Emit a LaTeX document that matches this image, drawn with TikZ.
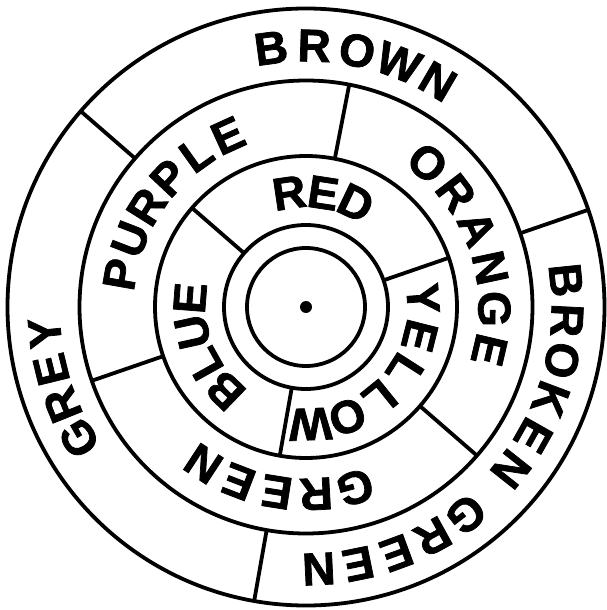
\documentclass[tikz,border=0pt]{standalone}
\usepackage{fontspec}
\setmainfont{Liberation Sans}
\newfontfamily\rueda{Liberation Sans Bold}[FakeBold=1.6]
\usetikzlibrary{calc}
\definecolor{tinta}{HTML}{000000}

\begin{document}
\begin{tikzpicture}[x=1pt,y=1pt,
  aro/.style={tinta,line width=3.8pt},
  letra/.style={inner sep=0pt,text height=33pt,text depth=0pt,
    font=\rueda\fontsize{46}{52}\selectfont,text=tinta}]
  \useasboundingbox (-306,-303) rectangle (300,307);
  \coordinate (O) at (0,0);
  % circles and dot
  \foreach \r in {298.5,226.5,151,82,59}
    \draw[aro] (O) circle (\r);
  \fill[tinta] (O) circle (6);
  % dividers of outer, middle and inner ring
  \foreach \a in {19,139,260}
    \draw[aro] (\a:226.5) -- (\a:298.5);
  \foreach \a in {79,199,319}
    \draw[aro] (\a:151) -- (\a:226.5);
  \foreach \a in {19,139,260}
    \draw[aro] (\a:82) -- (\a:151);
  % words, letter by letter, clockwise
  \foreach \n/\r/\a/\s/\w in {
      brown/262/97.7/9.5/{B,R,O,W,N},
      broken/262/5.9/8.85/{B,R,O,K,E,N},
      greenout/263/-52.4/8.7/{G,R,E,E,N},
      grey/263/210/8.1/{G,R,E,Y},
      purple/189/170/11.1/{P,U,R,P,L,E},
      orange/189/49.8/12.6/{O,R,A,N,G,E},
      greenmid/188/-74.8/12.1/{G,R,E,E,N},
      red/116/98.4/17/{R,E,D},
      yellow/118/4.2/18.4/{Y,E,L,L,O,W},
      blue/117/226/16.8/{B,L,U,E}}
    \foreach \ch [count=\i] in \w
      \node[letra,rotate={\a-(\i-1)*\s-90}] (\n\i) at ({\a-(\i-1)*\s}:\r) {\ch};
\end{tikzpicture}
\end{document}
